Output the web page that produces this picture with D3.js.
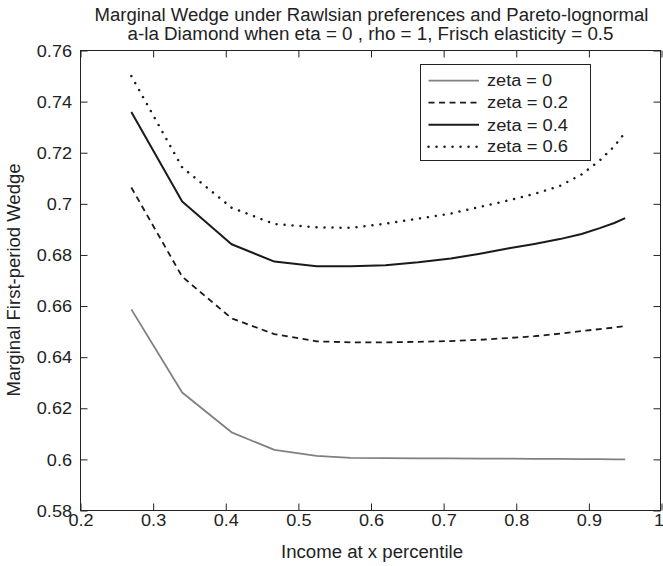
<!DOCTYPE html>
<html>
<head>
<meta charset="utf-8">
<script src="https://cdn.jsdelivr.net/npm/d3@7/dist/d3.min.js"></script>
<style>
  html, body { margin: 0; padding: 0; background: #fff; }
  svg { display: block; }
  text { font-family: "Liberation Sans", Arial, Helvetica, sans-serif; fill: #222; }
</style>
</head>
<body>
<svg id="chart" width="663" height="566"></svg>
<script>
// Income percentile grid shared by all series
const xValues = [0.27, 0.34, 0.408, 0.467, 0.525, 0.572, 0.62, 0.665, 0.71, 0.75, 0.79, 0.825, 0.86, 0.89, 0.915, 0.935, 0.95];

// Marginal first-period wedge for each zeta
const wedgeZeta0  = [0.6587, 0.6262, 0.6106, 0.6037, 0.6014, 0.6006, 0.6005, 0.6004, 0.6004, 0.6003, 0.6003, 0.6002, 0.6002, 0.6001, 0.6001, 0.6000, 0.6000];
const wedgeZeta02 = [0.7064, 0.6715, 0.6552, 0.6490, 0.6462, 0.6458, 0.6458, 0.6460, 0.6463, 0.6468, 0.6475, 0.6482, 0.6492, 0.6502, 0.6510, 0.6516, 0.6522];
const wedgeZeta04 = [0.7359, 0.7009, 0.6842, 0.6774, 0.6756, 0.6756, 0.6760, 0.6771, 0.6786, 0.6805, 0.6826, 0.6843, 0.6862, 0.6882, 0.6905, 0.6925, 0.6944];
const wedgeZeta06 = [0.7500, 0.7143, 0.6985, 0.6921, 0.6908, 0.6906, 0.6922, 0.6942, 0.6962, 0.6988, 0.7014, 0.7039, 0.7070, 0.7115, 0.7170, 0.7225, 0.7280];

const seriesNames = ["zeta = 0", "zeta = 0.2", "zeta = 0.4", "zeta = 0.6"];
const xTicks = [0.2, 0.3, 0.4, 0.5, 0.6, 0.7, 0.8, 0.9, 1];
const yTicks = [0.58, 0.6, 0.62, 0.64, 0.66, 0.68, 0.7, 0.72, 0.74, 0.76];

const titleLines = [
  "Marginal Wedge under Rawlsian preferences and Pareto-lognormal",
  "a-la Diamond when eta = 0 , rho = 1, Frisch elasticity = 0.5"
];
const xLabel = "Income at x percentile";
const yLabel = "Marginal First-period Wedge";

// Line styles per series
const styles = [
  { stroke: "#808080", width: 1.8, dash: null, cap: "butt" },
  { stroke: "#1a1a1a", width: 1.8, dash: "6,4.5", cap: "butt" },
  { stroke: "#1a1a1a", width: 2, dash: null, cap: "butt" },
  { stroke: "#1a1a1a", width: 2.5, dash: "0.01,8", cap: "round" }
];

const SX = 1.13; // horizontal stretch of the tick glyphs
const svg = d3.select("#chart");
const plot = { left: 80.5, right: 661.5, top: 50.5, bottom: 510.5 };

const x = d3.scaleLinear().domain([0.2, 1]).range([plot.left, plot.right]);
const y = d3.scaleLinear().domain([0.58, 0.76]).range([plot.bottom, plot.top]);
const fmt = d => String(+d.toFixed(2));

// Frame
svg.append("rect")
  .attr("x", plot.left).attr("y", plot.top)
  .attr("width", plot.right - plot.left - 1).attr("height", plot.bottom - plot.top)
  .attr("fill", "none").attr("stroke", "#222").attr("stroke-width", 1);

const tickLen = 7;
function styleAxis(g) {
  g.select(".domain").remove();
  g.selectAll(".tick line").attr("stroke", "#222").attr("stroke-width", 1);
}

// Bottom axis with labels
const gx = svg.append("g").attr("transform", `translate(0,${plot.bottom})`)
  .call(d3.axisBottom(x).tickValues(xTicks).tickFormat(fmt).tickSize(-tickLen))
  .call(styleAxis);
gx.selectAll(".tick text")
  .attr("y", null).attr("dy", null)
  .attr("transform", d => `translate(${d === 1 ? -3 : 0},15) scale(${SX},1)`)
  .attr("text-anchor", "middle")
  .style("font-size", "16px").style("font-family", '"Liberation Sans", Arial, sans-serif').attr("fill", "#222");

// Left axis with labels
const gy = svg.append("g").attr("transform", `translate(${plot.left},0)`)
  .call(d3.axisLeft(y).tickValues(yTicks).tickFormat(fmt).tickSize(-tickLen))
  .call(styleAxis);
gy.selectAll(".tick text")
  .attr("x", null).attr("dy", null)
  .attr("transform", `translate(-8.5,5.7) scale(${SX},1)`)
  .attr("text-anchor", "end")
  .style("font-size", "16px").style("font-family", '"Liberation Sans", Arial, sans-serif').attr("fill", "#222");

// Top and right axes: inward ticks only
svg.append("g").attr("transform", `translate(0,${plot.top})`)
  .call(d3.axisTop(x).tickValues(xTicks).tickFormat("").tickSize(-tickLen))
  .call(styleAxis);
svg.append("g").attr("transform", `translate(${plot.right - 1},0)`)
  .call(d3.axisRight(y).tickValues(yTicks).tickFormat("").tickSize(-tickLen))
  .call(styleAxis);

// Series
const allSeries = [wedgeZeta0, wedgeZeta02, wedgeZeta04, wedgeZeta06];
const line = d3.line().x(d => x(d[0])).y(d => y(d[1]));
allSeries.forEach((vals, i) => {
  const s = styles[i];
  svg.append("path")
    .datum(xValues.map((xv, k) => [xv, vals[k]]))
    .attr("d", line)
    .attr("fill", "none")
    .attr("stroke", s.stroke)
    .attr("stroke-width", s.width)
    .attr("stroke-dasharray", s.dash)
    .attr("stroke-linecap", s.cap)
    .attr("stroke-linejoin", "round");
});

// Text helper: fixed rendered length, optional rotation
function label(str, tx, ty, size, anchor, len, rotate) {
  const g = svg.append("g")
    .attr("transform", `translate(${tx},${ty})` + (rotate ? ` rotate(${rotate})` : ""));
  const t = g.append("text").text(str)
    .attr("text-anchor", anchor)
    .style("font-size", size + "px");
  if (len) t.attr("textLength", len).attr("lengthAdjust", "spacingAndGlyphs");
  return g;
}

// Title and axis labels
label(titleLines[0], 371.5, 20.5, 17.6, "middle", 554);
label(titleLines[1], 370.5, 40, 17.6, "middle", 486);
label(xLabel, 372, 558, 17.6, "middle", 182);
label(yLabel, 20, 280, 17.6, "middle", 233, -90);

// Legend
const legend = { x0: 420.5, y0: 64.5, x1: 590.5, y1: 160.5 };
svg.append("rect")
  .attr("x", legend.x0).attr("y", legend.y0)
  .attr("width", legend.x1 - legend.x0).attr("height", legend.y1 - legend.y0)
  .attr("fill", "#fff").attr("stroke", "#222").attr("stroke-width", 1);
const rowY = [80.7, 102.7, 124.8, 146.7];
const legendLen = [65, 81, 81, 81];
seriesNames.forEach((name, i) => {
  const s = styles[i];
  svg.append("line")
    .attr("x1", 428.5).attr("x2", 479).attr("y1", rowY[i]).attr("y2", rowY[i])
    .attr("stroke", s.stroke).attr("stroke-width", s.width)
    .attr("stroke-dasharray", s.dash).attr("stroke-linecap", s.cap);
  label(name, 487, rowY[i] + 5.7, 16, "start", legendLen[i]);
});
</script>
</body>
</html>
